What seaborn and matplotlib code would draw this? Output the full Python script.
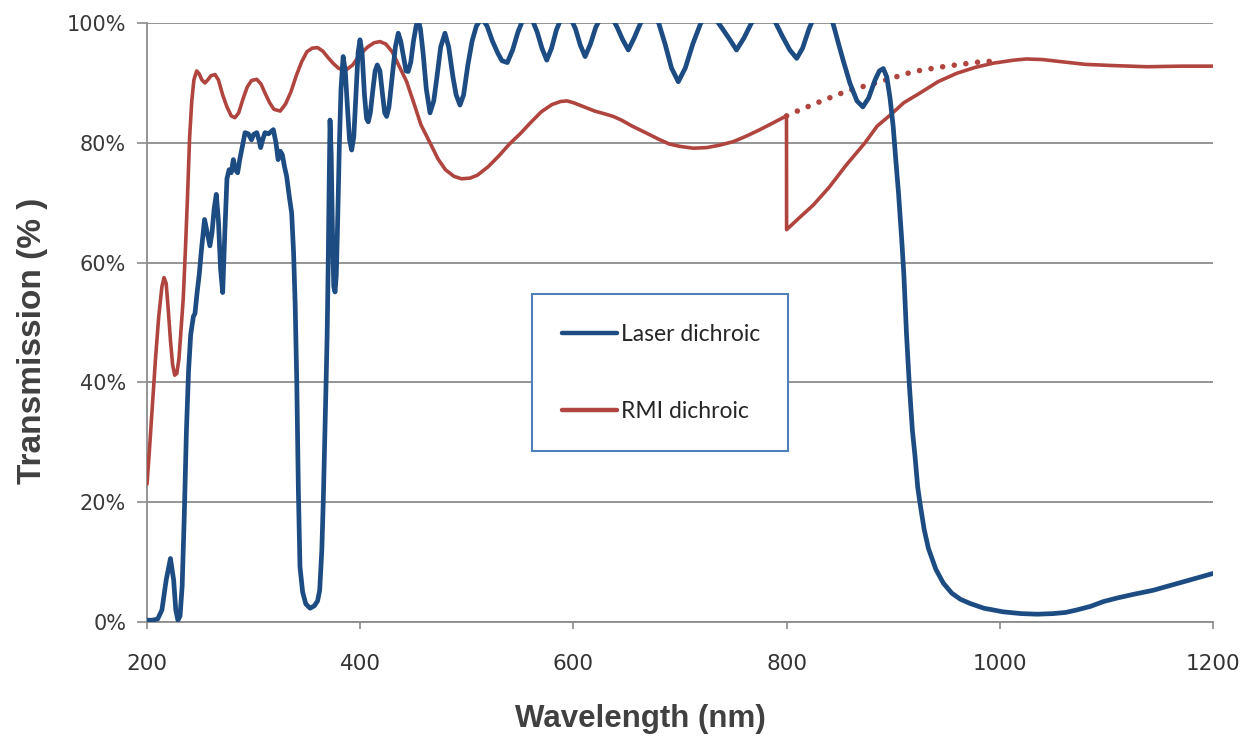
import pandas as pd
import seaborn as sns
from matplotlib import pyplot as plt
from matplotlib.lines import Line2D

# Laser dichroic (blue) - wavelength (nm) / transmission (%)
laser_nm = [200, 205, 210, 214, 218, 222, 225, 227, 229, 231, 233, 235, 237, 239, 241,
            243.5, 245, 247, 249, 251, 254, 256.5, 259, 261, 263, 265, 267, 269, 271, 273,
            275, 277, 279, 281, 283, 285, 287, 289, 292, 295, 298, 300, 303, 305, 306.6,
            308.5, 310.7, 314, 318.5, 321, 323, 325, 327, 329, 331, 333.5, 335.7, 337.5,
            339, 340.5, 342, 343.5, 346, 349, 353, 357, 360, 362, 364, 365.4, 367, 368,
            369, 370, 370.8, 371.7, 372.8, 374, 375.2, 376.4, 377.6, 379, 380.5, 382, 384,
            386, 388, 390, 392, 394, 396, 398, 399.8, 401.8, 404, 406, 407.6, 409.5, 412,
            414, 416, 418.5, 421, 423, 424.8, 427, 430, 433, 435.7, 438, 440.5, 443, 445,
            447.5, 450, 452.5, 454.5, 456.5, 459, 462, 465.5, 469, 472, 475.5, 479.5, 483,
            487, 490, 493.6, 497, 501, 505, 509, 514, 519, 524, 529, 533, 538, 543, 548,
            552.5, 557, 561.5, 566, 570.5, 575, 579.5, 584, 588.5, 593, 597.5, 602, 606.5,
            611, 616, 621, 626, 631, 636, 641, 646, 651.5, 657, 663, 668.5, 674, 680, 686,
            692, 698.4, 705, 712, 719.5, 727, 734, 740, 746.5, 753, 760, 767, 774.5, 782,
            789, 796, 803, 809.5, 815, 821, 827, 834, 841, 845, 848, 853, 859.5, 866,
            871.5, 877, 883, 887, 890.7, 894, 897, 900, 902.5, 905, 908, 910, 912.5, 915,
            918, 920.5, 923, 925, 929, 933, 940, 947, 955, 963, 972, 985, 1003, 1020,
            1035, 1050, 1062, 1072, 1085, 1097, 1110, 1125, 1144, 1160, 1180, 1200]
laser_pct = [0.3, 0.3, 0.5, 2, 7, 10.6, 7, 2, 0.3, 1, 6, 18, 32, 42, 48,
             51, 51.5, 55, 58, 62, 67.2, 65, 62.8, 65, 69, 71.4, 67, 59, 55, 65,
             74, 75.5, 75, 77.2, 75.5, 75, 77.2, 79, 81.7, 81.5, 80.5, 81.4, 81.7, 80.5, 79.2,
             80.5, 81.7, 81.5, 82.2, 80, 77.2, 78.6, 78, 76, 74.4, 71, 68.3, 61.7,
             53, 40, 22, 9.2, 5, 3, 2.3, 2.7, 3.5, 5.3, 12, 20.4, 32, 40,
             48, 60, 72, 83.8, 78, 65, 56, 55.1, 58, 68, 80, 89, 94.4,
             92, 86, 80.5, 78.8, 81, 88, 95, 97.2, 95, 88, 84, 83.5, 85, 89,
             92, 93, 92, 88, 85, 84.4, 86, 91, 96, 98.3, 97, 94.5, 92, 91.9,
             93.5, 97, 99.5, 100.5, 99, 95, 89, 85, 87, 91, 96, 98.3, 96,
             91, 88, 86.3, 88, 93, 97, 99.5, 100.8, 99.5, 97, 95, 93.7, 93.4, 95.5, 98.5,
             100.5, 101.5, 100.5, 98.5, 95.8, 93.8, 95.8, 98.8, 100.8, 101.5, 100.8, 99, 96.3,
             94.4, 96.5, 99.3, 101, 101.5, 101, 99.3, 97.3, 95.5, 97.5, 100, 101.3, 101.5, 100, 96.5,
             92.5, 90.2, 92.5, 96.5, 100, 101.5, 100.5, 99, 97.3, 95.5, 97.5, 100, 101.3, 101.5,
             100.3, 97.8, 95.5, 94.1, 95.8, 99, 101.5, 102, 101.5, 99, 97, 93.8, 89.9, 87,
             86, 87.5, 90.5, 92, 92.4, 91, 87.5, 82.7, 77, 71.6, 63.8, 58, 48, 40,
             32, 27.6, 22.5, 20, 15.5, 12.3, 8.8, 6.5, 4.8, 3.8, 3.1, 2.3, 1.7, 1.4,
             1.3, 1.4, 1.6, 2.0, 2.6, 3.4, 4.0, 4.6, 5.3, 6.1, 7.1, 8.1]

# RMI dichroic (red)
rmi_nm = [200, 202, 205, 208, 211, 214, 216, 218, 220, 222, 224, 226, 228, 230, 232, 234,
          236, 238, 240, 242, 244, 246.6, 249, 251.5, 254.4, 257, 260, 263.8, 267, 271,
          275, 279, 282.5, 286, 290, 294, 298, 303, 307, 311, 315, 319, 325, 330, 335,
          340, 345, 350, 355, 360, 365, 370, 375, 380, 387, 393, 400, 407, 413, 418.6,
          424, 430, 436, 443.6, 450, 457, 465.5, 473, 480, 488, 495, 503, 510, 520, 530,
          540, 550, 560, 570, 580, 588, 594, 600, 610, 620, 630, 637.5, 645, 655, 668.8,
          680, 690, 700, 712.5, 725, 737, 750, 762, 775, 787, 799.9, 800, 812, 825, 840,
          856, 873.5, 885, 897, 910, 925, 942, 959.5, 977, 994, 1013, 1025, 1040, 1060,
          1080, 1106, 1138, 1170, 1200]
rmi_pct = [23, 28, 36, 44, 51, 56, 57.5, 56.5, 52, 47, 43, 41.2, 41.5, 44, 49, 54,
           62, 71, 81, 87, 90.5, 92, 91.5, 90.5, 90, 90.5, 91.2, 91.4, 90.5, 88,
           86, 84.5, 84.2, 85, 87.3, 89.3, 90.4, 90.6, 89.8, 88.2, 86.7, 85.6, 85.3, 86.5, 88.5,
           91.2, 93.5, 95.2, 95.8, 95.9, 95.3, 94.2, 93.2, 92.4, 92.2, 93, 94.8, 96, 96.7, 96.9,
           96.5, 95.2, 93, 90.2, 86.8, 83, 80, 77.3, 75.5, 74.4, 74, 74.1, 74.6, 76, 77.8,
           79.8, 81.5, 83.4, 85.2, 86.4, 86.9, 87, 86.7, 86, 85.3, 84.8, 84.4, 83.8, 82.8, 81.6,
           80.6, 79.8, 79.4, 79.1, 79.2, 79.6, 80.2, 81.1, 82.2, 83.3, 84.5, 65.5, 67.5, 69.6, 72.6,
           76.3, 80, 82.8, 84.6, 86.7, 88.3, 90.2, 91.6, 92.6, 93.3, 93.8, 94.0, 93.9, 93.5,
           93.1, 92.9, 92.7, 92.8, 92.8]

# RMI dichroic, dotted continuation above 800 nm
rmi_dot_nm = [800, 812.5, 834.5, 856, 887.6, 919, 950, 981, 1000]
rmi_dot_pct = [84.5, 85.5, 87.1, 88.6, 90.2, 91.9, 92.8, 93.5, 93.7]

x_ticks = [200, 400, 600, 800, 1000, 1200]
y_ticks = [0, 20, 40, 60, 80, 100]

BLUE = '#1d4c82'
RED = '#b0453f'
GRID = '#8c8c8c'

sns.set_theme(style='white')
plt.rcParams['font.family'] = ['DejaVu Sans']

laser = pd.DataFrame({'nm': laser_nm, 'pct': laser_pct})
rmi = pd.DataFrame({'nm': rmi_nm, 'pct': rmi_pct})
rmi_dot = pd.DataFrame({'nm': rmi_dot_nm, 'pct': rmi_dot_pct})

fig, ax = plt.subplots(figsize=(12.5, 7.38), dpi=100)
fig.subplots_adjust(left=0.1176, right=0.9704, top=0.9688, bottom=0.1572)

sns.lineplot(data=rmi_dot, x='nm', y='pct', ax=ax, color=RED, lw=4.0,
             linestyle=(0, (0.01, 2.1)), dash_capstyle='round',
             estimator=None, sort=False, zorder=3)
sns.lineplot(data=rmi, x='nm', y='pct', ax=ax, color=RED, lw=2.6,
             estimator=None, sort=False, zorder=3)
sns.lineplot(data=laser, x='nm', y='pct', ax=ax, color=BLUE, lw=3.4,
             estimator=None, sort=False, zorder=4)

ax.set_xlim(200, 1200)
ax.set_ylim(0, 100)
ax.set_xticks(x_ticks)
ax.set_yticks(y_ticks)
ax.set_yticklabels([f'{v}%' for v in y_ticks])
ax.grid(axis='y', color=GRID, lw=1.3)
ax.set_axisbelow(True)

for side in ['top', 'right']:
    ax.spines[side].set_visible(False)
for side in ['left', 'bottom']:
    ax.spines[side].set_color(GRID)
    ax.spines[side].set_linewidth(1.3)

ax.tick_params(axis='y', length=7, width=1.2, color=GRID, pad=8,
               labelsize=15, labelcolor='#3a3a3a', left=True)
ax.tick_params(axis='x', length=5, width=1.2, color=GRID, pad=18,
               labelsize=15.5, labelcolor='#333333', bottom=True)

ax.set_xlabel('Wavelength (nm)', fontsize=22.5, fontweight='bold', color='#404040',
              family=['Liberation Sans', 'DejaVu Sans'])
ax.set_ylabel('Transmission (% )', fontsize=24, fontweight='bold', color='#404040',
              family=['Liberation Sans', 'DejaVu Sans'])
ax.xaxis.set_label_coords(0.4625, -0.137)
ax.yaxis.set_label_coords(-0.093, 0.47)

handles = [Line2D([], [], color=BLUE, lw=3.2), Line2D([], [], color=RED, lw=3.2)]
leg = ax.legend(handles, ['Laser dichroic', 'RMI dichroic'],
                loc='upper left', bbox_to_anchor=(0.361, 0.299, 0.24, 0.249),
                mode='expand', borderaxespad=0, fancybox=False, framealpha=1,
                edgecolor='#4f7fb8', borderpad=1.3, labelspacing=2.45,
                handlelength=2.4, handletextpad=0.2,
                prop={'family': ['Lato', 'DejaVu Sans'], 'size': 16.5})
leg.get_frame().set_linewidth(1.5)
for t in leg.get_texts():
    t.set_color('#262626')

plt.savefig('out.png', dpi=100)
